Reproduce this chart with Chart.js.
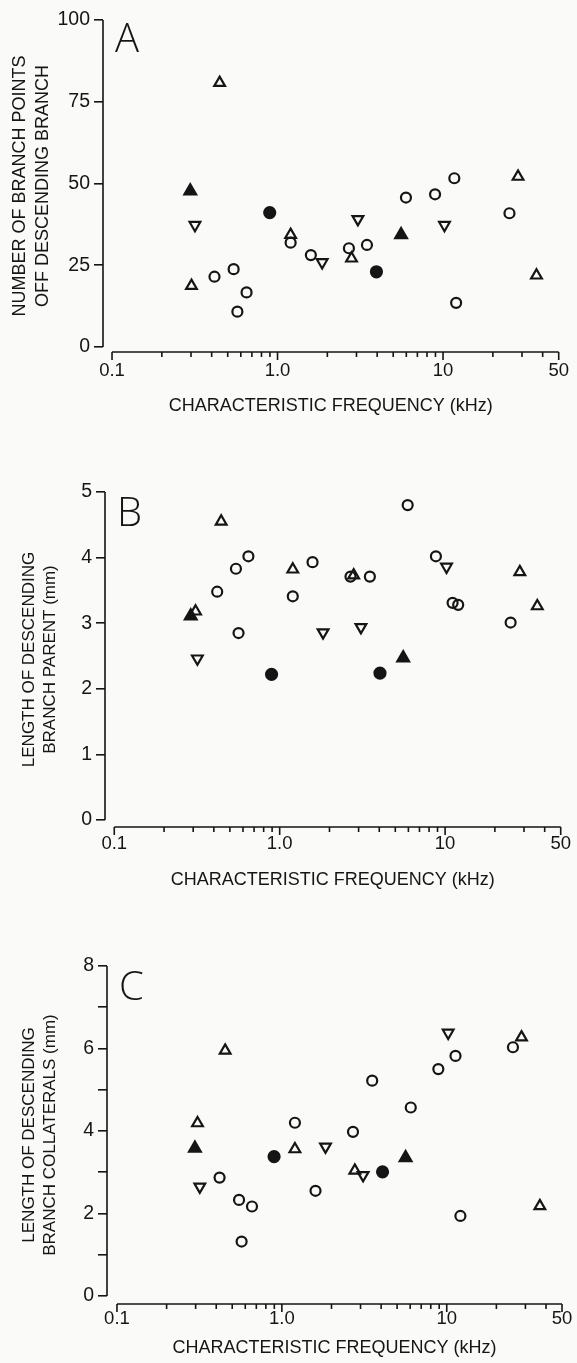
<!DOCTYPE html>
<html>
<head>
<meta charset="utf-8">
<script src="https://cdn.jsdelivr.net/npm/chart.js@4.4.1/dist/chart.umd.min.js"></script>
<style>
  html, body { margin: 0; padding: 0; background: #fafaf8; }
  body { width: 577px; height: 1363px; position: relative; overflow: hidden; }
  canvas { position: absolute; left: 0; }
</style>
</head>
<body>
<canvas id="panelA" width="577" height="430" style="top:0px"></canvas>
<canvas id="panelB" width="577" height="460" style="top:440px"></canvas>
<canvas id="panelC" width="577" height="423" style="top:940px"></canvas>
<script>
// ── Values ─────────────────────────────────────────────────
// each point is [characteristic frequency (kHz), measured value]

const xTicks = [0.1, 0.2, 0.3, 0.4, 0.5, 0.6, 0.7, 0.8, 0.9,
  1, 2, 3, 4, 5, 6, 7, 8, 9, 10, 20, 30, 40, 50];
const xMajorTicks = [0.1, 1, 10, 50];
const xTickLabels = { 0.1: "0.1", 1: "1.0", 10: "10", 50: "50" };
const xTitle = "CHARACTERISTIC FREQUENCY (kHz)";

// Panel A: number of branch points off descending branch
const aYTicks = [0, 25, 50, 75, 100];
const aOpenCircle = [[0.416, 21.5], [0.543, 23.8], [0.572, 10.8], [0.65, 16.7], [1.2, 31.9],
  [1.59, 28.1], [2.7, 30.2], [3.47, 31.2], [5.97, 45.7], [8.95, 46.7], [11.7, 51.6],
  [12.0, 13.5], [25.2, 40.9]];
const aFilledCircle = [[0.897, 41.1], [3.96, 23.0]];
const aOpenUp = [[0.447, 80.8], [0.302, 18.7], [1.2, 34.3], [2.8, 27.1], [28.4, 52.1], [36.7, 21.9]];
const aFilledUp = [[0.297, 47.7], [5.58, 34.3]];
const aOpenDown = [[0.317, 37.3], [1.86, 25.9], [3.06, 39.1], [10.2, 37.3]];

// Panel B: length of descending branch parent (mm)
const bYTicks = [0, 1, 2, 3, 4, 5];
const bOpenCircle = [[0.419, 3.48], [0.544, 3.83], [0.564, 2.85], [0.647, 4.02], [1.2, 3.41],
  [1.58, 3.93], [2.68, 3.71], [3.51, 3.71], [5.94, 4.8], [8.8, 4.02], [11.1, 3.31],
  [12.0, 3.28], [24.9, 3.01]];
const bFilledCircle = [[0.893, 2.22], [4.04, 2.24]];
const bOpenUp = [[0.31, 3.18], [0.443, 4.55], [1.2, 3.82], [2.8, 3.73], [28.3, 3.78], [36.1, 3.26]];
const bFilledUp = [[0.29, 3.11], [5.58, 2.47]];
const bOpenDown = [[0.318, 2.46], [1.83, 2.86], [3.1, 2.94], [10.2, 3.86]];

// Panel C: length of descending branch collaterals (mm)
const cYTicks = [0, 1, 2, 3, 4, 5, 6, 7, 8];
const cYLabels = [0, 2, 4, 6, 8];
const cOpenCircle = [[0.419, 2.87], [0.55, 2.33], [0.659, 2.17], [0.57, 1.32], [1.2, 4.2],
  [1.6, 2.55], [2.7, 3.98], [3.53, 5.22], [6.05, 4.57], [8.89, 5.5], [11.3, 5.82],
  [12.1, 1.94], [25.2, 6.03]];
const cFilledCircle = [[0.897, 3.38], [4.08, 3.01]];
const cOpenUp = [[0.308, 4.19], [0.453, 5.95], [1.2, 3.56], [2.77, 3.04], [28.4, 6.27], [36.7, 2.18]];
const cFilledUp = [[0.297, 3.58], [5.63, 3.35]];
const cOpenDown = [[0.318, 2.65], [1.84, 3.62], [3.11, 2.93], [10.2, 6.38]];

// ── Styling ─────────────────────────────
const INK = "#151515";
const FONT = '"Liberation Sans", Arial, Helvetica, sans-serif';
Chart.defaults.font.family = FONT;
Chart.defaults.color = INK;

const markerStyles = {
  openCircle: { pointStyle: "circle", radius: 5, fill: "rgba(0,0,0,0)", rotation: 0 },
  filledCircle: { pointStyle: "circle", radius: 5.5, fill: INK, rotation: 0 },
  openUp: { pointStyle: "triangle", radius: 6.2, fill: "rgba(0,0,0,0)", rotation: 0 },
  filledUp: { pointStyle: "triangle", radius: 6.8, fill: INK, rotation: 0 },
  openDown: { pointStyle: "triangle", radius: 6.2, fill: "rgba(0,0,0,0)", rotation: 180 },
};

const toPoints = (pairs) => pairs.map(([x, y]) => ({ x, y }));

// Axis lines offset from each other, drawn from the chart's own scales
const offsetAxes = {
  id: "offsetAxes",
  afterDraw(chart, args, opts) {
    const { ctx, chartArea } = chart;
    const { x, y } = chart.scales;
    ctx.save();
    ctx.strokeStyle = INK;
    ctx.lineWidth = 1.6;
    ctx.beginPath();
    ctx.moveTo(chartArea.left, y.getPixelForValue(opts.yTop));
    ctx.lineTo(chartArea.left, y.getPixelForValue(0));
    const base = chartArea.bottom;
    ctx.moveTo(x.getPixelForValue(0.1), base);
    ctx.lineTo(x.getPixelForValue(50), base);
    xTicks.forEach((v) => {
      const px = x.getPixelForValue(v);
      ctx.moveTo(px, base);
      ctx.lineTo(px, base + (xMajorTicks.includes(v) ? 8 : 5));
    });
    ctx.stroke();

    ctx.fillStyle = INK;
    ctx.font = '300 40px "Open Sans", ' + FONT;
    ctx.textBaseline = "alphabetic";
    ctx.textAlign = "left";
    ctx.fillText(opts.letter, chartArea.left + opts.dx, chartArea.top + opts.dy);
    ctx.restore();
  },
};

function makePanel(id, p) {
  const series = [
    ["openCircle", p.openCircle],
    ["filledCircle", p.filledCircle],
    ["openUp", p.openUp],
    ["filledUp", p.filledUp],
    ["openDown", p.openDown],
  ];

  new Chart(document.getElementById(id), {
    type: "scatter",
    data: {
      datasets: series.map(([kind, pairs]) => {
        const m = markerStyles[kind];
        return {
          label: kind,
          data: toPoints(pairs),
          pointStyle: m.pointStyle,
          pointRadius: m.radius,
          pointRotation: m.rotation,
          pointBackgroundColor: m.fill,
          pointBorderColor: INK,
          pointBorderWidth: 2.2,
          clip: false,
        };
      }),
    },
    options: {
      responsive: false,
      animation: false,
      events: [],
      layout: { padding: { top: p.padTop, right: p.padRight, left: 0, bottom: 0 } },
      plugins: {
        legend: { display: false },
        tooltip: { enabled: false },
        offsetAxes: { yTop: p.yTicks[p.yTicks.length - 1], letter: p.letter, dx: 12, dy: p.letterDy },
      },
      scales: {
        x: {
          type: "logarithmic",
          min: p.xMin,
          max: 50,
          afterFit: (s) => { s.height = p.xHeight; },
          afterBuildTicks: (s) => { s.ticks = xTicks.map((v) => ({ value: v })); },
          grid: { display: false, drawTicks: false },
          border: { display: false },
          ticks: {
            autoSkip: false,
            maxRotation: 0,
            padding: p.xLabelPad,
            font: { size: 18.5 },
            color: INK,
            callback: (v) => xTickLabels[v] ?? "",
          },
          title: {
            display: true,
            text: xTitle,
            font: { size: 18 },
            color: INK,
            padding: { top: 0, bottom: p.xTitlePad },
          },
        },
        y: {
          min: p.yMin,
          max: p.yTicks[p.yTicks.length - 1],
          afterFit: (s) => { s.width = p.yWidth; },
          afterBuildTicks: (s) => { s.ticks = p.yTicks.map((v) => ({ value: v })); },
          grid: { drawOnChartArea: false, drawTicks: true, tickLength: 9, color: INK, lineWidth: 1.6 },
          border: { display: false },
          ticks: {
            padding: 4,
            font: { size: 19.5 },
            color: INK,
            callback: (v) => (p.yLabels.includes(v) ? String(v) : ""),
          },
          title: {
            display: true,
            text: p.yTitle,
            font: { size: p.yTitleSize, lineHeight: p.yTitleLine },
            color: INK,
            padding: { top: p.yTitlePad, bottom: 0 },
          },
        },
      },
    },
    plugins: [offsetAxes],
  });
}

makePanel("panelA", {
  letter: "A", letterDy: 32,
  openCircle: aOpenCircle, filledCircle: aFilledCircle, openUp: aOpenUp,
  filledUp: aFilledUp, openDown: aOpenDown,
  yTicks: aYTicks, yLabels: aYTicks, yMin: -1.53,
  yTitle: ["NUMBER OF BRANCH POINTS", "OFF DESCENDING BRANCH"],
  yTitleSize: 18, yTitleLine: 1.25,
  xMin: 0.0882, padTop: 20, padRight: 17, xHeight: 78, yWidth: 103,
  xLabelPad: 8, xTitlePad: 13, yTitlePad: 9,
});

makePanel("panelB", {
  letter: "B", letterDy: 34,
  openCircle: bOpenCircle, filledCircle: bFilledCircle, openUp: bOpenUp,
  filledUp: bFilledUp, openDown: bOpenDown,
  yTicks: bYTicks, yLabels: bYTicks, yMin: -0.107,
  yTitle: ["LENGTH OF DESCENDING", "BRANCH PARENT (mm)"],
  yTitleSize: 17, yTitleLine: 1.22,
  xMin: 0.0879, padTop: 52, padRight: 15, xHeight: 73, yWidth: 105,
  xLabelPad: 6, xTitlePad: 9, yTitlePad: 19,
});

makePanel("panelC", {
  letter: "C", letterDy: 34,
  openCircle: cOpenCircle, filledCircle: cFilledCircle, openUp: cOpenUp,
  filledUp: cFilledUp, openDown: cOpenDown,
  yTicks: cYTicks, yLabels: cYLabels, yMin: -0.194,
  yTitle: ["LENGTH OF DESCENDING", "BRANCH COLLATERALS (mm)"],
  yTitleSize: 17, yTitleLine: 1.22,
  xMin: 0.087, padTop: 26, padRight: 15, xHeight: 59, yWidth: 107,
  xLabelPad: 4, xTitlePad: 4, yTitlePad: 19,
});
</script>
</body>
</html>
